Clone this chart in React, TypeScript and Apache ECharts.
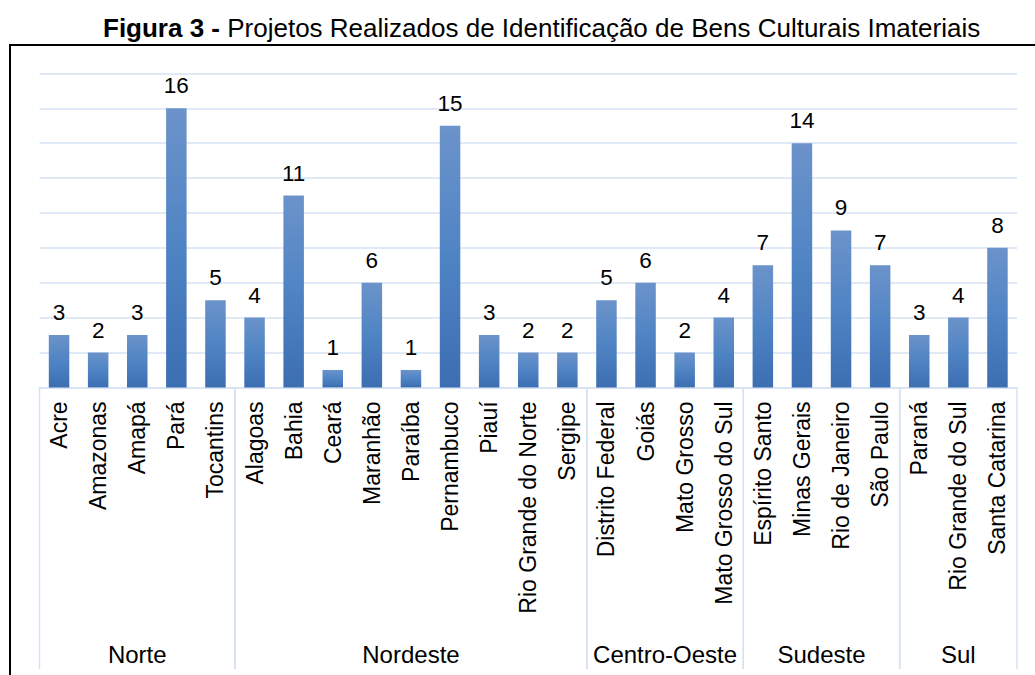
import React, { useEffect, useRef } from "react";
import * as echarts from "echarts";

const categories = [
  "Acre", "Amazonas", "Amapá", "Pará", "Tocantins",
  "Alagoas", "Bahia", "Ceará", "Maranhão", "Paraíba", "Pernambuco", "Piauí", "Rio Grande do Norte", "Sergipe",
  "Distrito Federal", "Goiás", "Mato Grosso", "Mato Grosso do Sul",
  "Espírito Santo", "Minas Gerais", "Rio de Janeiro", "São Paulo",
  "Paraná", "Rio Grande do Sul", "Santa Catarina",
];
const values = [3, 2, 3, 16, 5, 4, 11, 1, 6, 1, 15, 3, 2, 2, 5, 6, 2, 4, 7, 14, 9, 7, 3, 4, 8];
const groupNames = ["Norte", "Nordeste", "Centro-Oeste", "Sudeste", "Sul"];
const groupSizes = [5, 9, 4, 4, 3];

const FONT = "Liberation Sans, Arial, sans-serif";

export default function App() {
  const ref = useRef<HTMLDivElement>(null);
  useEffect(() => {
    if (!ref.current) return;
    const chart = echarts.init(ref.current, null, { renderer: "svg" });

    const groupData: number[][] = [];
    let start = 0;
    groupSizes.forEach((n) => {
      groupData.push([start, 0, start + n - 1]);
      start += n;
    });

    const option: any = {
      animation: false,
      textStyle: { fontFamily: FONT },
      title: {
        text: "{b|Figura 3 -} Projetos Realizados de Identificação de Bens Culturais Imateriais",
        left: 98,
        top: 10,
        textStyle: {
          fontFamily: FONT,
          fontSize: 26,
          fontWeight: "normal",
          color: "#000",
          rich: { b: { fontFamily: FONT, fontSize: 26, fontWeight: "bold", color: "#000" } },
        },
      },
      graphic: [
        {
          type: "rect",
          shape: { x: 10, y: 45, width: 1100, height: 700 },
          style: { fill: "none", stroke: "#000", lineWidth: 2 },
          silent: true,
        },
      ],
      grid: { left: 39.5, right: 18, top: 73.4, bottom: 287.6, containLabel: false },
      xAxis: {
        type: "category",
        data: categories,
        axisLine: { show: true, lineStyle: { color: "#d6e2f3", width: 1.5 } },
        axisTick: { show: false },
        axisLabel: {
          rotate: 90,
          interval: 0,
          margin: 14,
          fontSize: 23,
          color: "#000",
          fontFamily: FONT,
        },
      },
      yAxis: {
        type: "value",
        min: 0,
        max: 18,
        interval: 2,
        axisLabel: { show: false },
        axisLine: { show: false },
        axisTick: { show: false },
        splitLine: { lineStyle: { color: "#d6e2f3", width: 1.5 } },
      },
      series: [
        {
          type: "bar",
          data: values,
          barWidth: 20.5,
          itemStyle: {
            color: new echarts.graphic.LinearGradient(0, 0, 0, 1, [
              { offset: 0, color: "#6C93CA" },
              { offset: 0.5, color: "#4F84C4" },
              { offset: 1, color: "#3C6EB2" },
            ]),
          },
          label: {
            show: true,
            position: "top",
            distance: 11,
            fontSize: 22.5,
            color: "#000",
            fontFamily: FONT,
          },
        },
        {
          type: "custom",
          silent: true,
          clip: false,
          data: groupData,
          encode: { x: 0, y: 1 },
          renderItem: (params: any, api: any) => {
            const s = api.value(0);
            const e = api.value(2);
            const p0 = api.coord([s, 0]);
            const p1 = api.coord([e, 0]);
            const bw = api.size([1, 0])[0];
            const l = p0[0] - bw / 2;
            const r = p1[0] + bw / 2;
            const y0 = p0[1];
            const y1 = 669;
            const lineStyle = { stroke: "#d6e2f3", lineWidth: 1.5 };
            return {
              type: "group",
              children: [
                { type: "line", shape: { x1: l, y1: y0, x2: l, y2: y1 }, style: lineStyle },
                { type: "line", shape: { x1: r, y1: y0, x2: r, y2: y1 }, style: lineStyle },
                {
                  type: "text",
                  x: (l + r) / 2,
                  y: 654,
                  style: {
                    text: groupNames[params.dataIndex],
                    align: "center",
                    verticalAlign: "middle",
                    fontSize: 24,
                    fontFamily: FONT,
                    fill: "#000",
                  },
                },
              ],
            };
          },
        },
      ],
    };
    chart.setOption(option);
    return () => chart.dispose();
  }, []);
  return (
    <div
      ref={ref}
      style={{ position: "absolute", left: 0, top: 0, width: 1035, height: 675, background: "#fff" }}
    />
  );
}
